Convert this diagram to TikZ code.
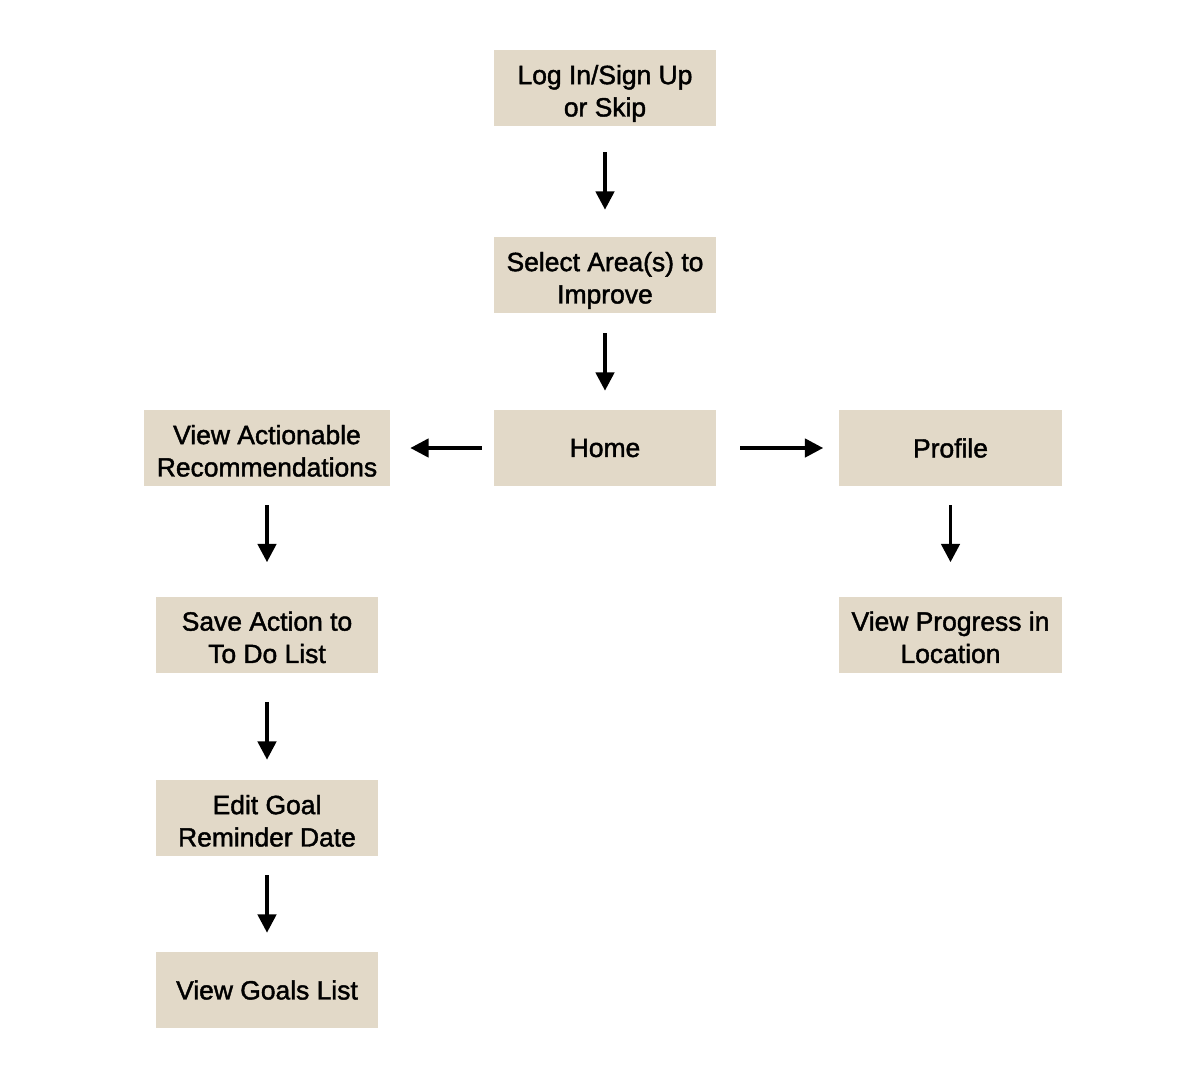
\documentclass[tikz,border=0pt]{standalone}
\usepackage{fontspec}
\setmainfont{Liberation Sans}[FakeBold=1.6]
\usetikzlibrary{arrows.meta}
\definecolor{boxfill}{HTML}{E2D9C8}
\begin{document}
\begin{tikzpicture}[x=0.025cm,y=-0.025cm,
  box/.style={fill=boxfill, draw=none, inner sep=0pt, align=center,
    minimum width=5.55cm, minimum height=1.9cm,
    font=\fontsize{18.8pt}{23pt}\selectfont},
  twoline/.style={text height=40.5pt, text depth=0pt},
  flow/.style={line width=2.6pt, -{Triangle[length=13pt,width=13pt]}}]
\useasboundingbox (0,0) rectangle (1200,1078);
\node[box, twoline] (login) at (605,88) {Log In/Sign Up\\or Skip};
\node[box, twoline] (select) at (605,275) {Select Area(s) to\\Improve};
\node[box] (home) at (605,448) {Home};
\node[box, twoline, minimum width=6.15cm] (view) at (267,448) {View Actionable\\Recommendations};
\node[box] (profile) at (950.5,448) {Profile};
\node[box, twoline] (save) at (267,634.5) {Save Action to\\To Do List};
\node[box, twoline] (progress) at (950.5,634.5) {View Progress in\\Location};
\node[box, twoline] (edit) at (267,818) {Edit Goal\\Reminder Date};
\node[box] (goals) at (267,990) {View Goals List};

\draw[flow, shorten <=0.65cm, shorten >=0.675cm] (login) -- (select);
\draw[flow, shorten <=0.5cm, shorten >=0.475cm] (select) -- (home);
\draw[flow, shorten <=0.3cm, shorten >=0.5cm] (home) -- (view);
\draw[flow, shorten <=0.6cm, shorten >=0.4cm] (home) -- (profile);
\draw[flow, shorten <=0.475cm, shorten >=0.85cm] (view) -- (save);
\draw[flow, shorten <=0.475cm, shorten >=0.85cm] (profile) -- (progress);
\draw[flow, shorten <=0.725cm, shorten >=0.5cm] (save) -- (edit);
\draw[flow, shorten <=0.475cm, shorten >=0.475cm] (edit) -- (goals);
\end{tikzpicture}
\end{document}
